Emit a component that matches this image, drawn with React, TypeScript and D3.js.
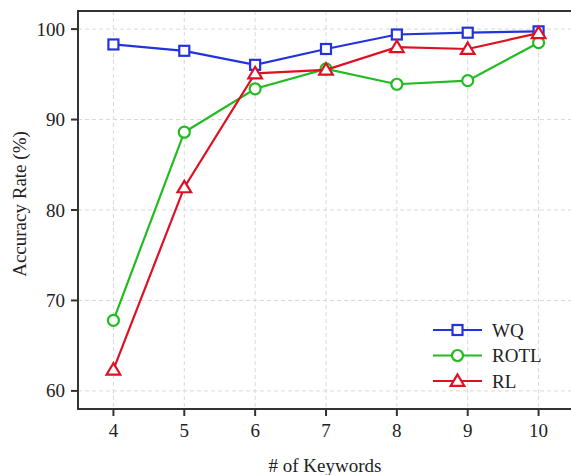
import React from "react";
import * as d3 from "d3";

const keywords = [4, 5, 6, 7, 8, 9, 10];
const wq = [98.3, 97.6, 96.05, 97.8, 99.4, 99.6, 99.75];
const rotl = [67.8, 88.6, 93.4, 95.6, 93.9, 94.3, 98.5];
const rl = [62.35, 82.5, 95.1, 95.5, 98.0, 97.8, 99.55];
const seriesNames = ["WQ", "ROTL", "RL"];
const seriesColors = ["#2233dd", "#22bb22", "#dd1122"];
const xTicks = [4, 5, 6, 7, 8, 9, 10];
const yTicks = [60, 70, 80, 90, 100];

const W = 571, H = 475;
const margin = { left: 78, top: 11, right: -3, bottom: 66 };

function Marker({ kind, x, y, color }: { kind: number; x: number; y: number; color: string }) {
  if (kind === 0) return <rect x={x - 5} y={y - 5} width={10} height={10} fill="white" stroke={color} strokeWidth={2.2} />;
  if (kind === 1) return <circle cx={x} cy={y} r={5.5} fill="white" stroke={color} strokeWidth={2.2} />;
  const s = 6.5;
  const p = `M${x},${y - s} L${x + s * 1.05},${y + s * 0.75} L${x - s * 1.05},${y + s * 0.75} Z`;
  return <path d={p} fill="white" stroke={color} strokeWidth={2.2} strokeLinejoin="miter" />;
}

export default function App() {
  const x = d3.scaleLinear().domain([3.5, 10.5]).range([margin.left, W - margin.right]);
  const y = d3.scaleLinear().domain([58, 102]).range([H - margin.bottom, margin.top]);
  const all = [wq, rotl, rl];
  const line = d3.line<number>().x((_, i) => x(keywords[i])).y((d) => y(d));
  const font = "'Liberation Serif', 'Times New Roman', serif";
  const fs = 19;
  const x0 = x.range()[0], x1 = x.range()[1], y0 = y.range()[0], y1 = y.range()[1];
  return (
    <svg width={W} height={H} style={{ position: "absolute", left: 0, top: 0 }}>
      <rect x={0} y={0} width={W} height={H} fill="white" />
      {xTicks.map((t) => (
        <line key={"gx" + t} x1={x(t)} x2={x(t)} y1={y1} y2={y0} stroke="#d8d8d8" strokeDasharray="4,3" strokeWidth={1} />
      ))}
      {yTicks.map((t) => (
        <line key={"gy" + t} x1={x0} x2={x1} y1={y(t)} y2={y(t)} stroke="#d8d8d8" strokeDasharray="4,3" strokeWidth={1} />
      ))}
      <rect x={x0} y={y1} width={x1 - x0} height={y0 - y1} fill="none" stroke="#333" strokeWidth={2} />
      {xTicks.map((t) => (
        <g key={"tx" + t}>
          <line x1={x(t)} x2={x(t)} y1={y0} y2={y0 + 7} stroke="#333" strokeWidth={2} />
          <text x={x(t)} y={y0 + 28} textAnchor="middle" fontFamily={font} fontSize={fs} fill="#222">{t}</text>
        </g>
      ))}
      {yTicks.map((t) => (
        <g key={"ty" + t}>
          <line x1={x0 - 7} x2={x0} y1={y(t)} y2={y(t)} stroke="#333" strokeWidth={2} />
          <text x={x0 - 13} y={y(t) + 6.5} textAnchor="end" fontFamily={font} fontSize={fs} fill="#222">{t}</text>
        </g>
      ))}
      {all.map((s, k) => (
        <g key={"s" + k}>
          <path d={line(s) || ""} fill="none" stroke={seriesColors[k]} strokeWidth={2.2} />
          {s.map((v, i) => (
            <Marker key={i} kind={k} x={x(keywords[i])} y={y(v)} color={seriesColors[k]} />
          ))}
        </g>
      ))}
      {seriesNames.map((n, k) => {
        const ly = 330 + k * 25.5;
        return (
          <g key={"l" + k}>
            <line x1={433} x2={482} y1={ly} y2={ly} stroke={seriesColors[k]} strokeWidth={2.2} />
            <Marker kind={k} x={457.5} y={ly} color={seriesColors[k]} />
            <text x={492} y={ly + 6.5} fontFamily={font} fontSize={fs} fill="#222">{n}</text>
          </g>
        );
      })}
      <text x={325} y={472} textAnchor="middle" fontFamily={font} fontSize={fs} fill="#222"># of Keywords</text>
      <text transform={`translate(26, 204) rotate(-90)`} textAnchor="middle" fontFamily={font} fontSize={fs} fill="#222">Accuracy Rate (%)</text>
    </svg>
  );
}
